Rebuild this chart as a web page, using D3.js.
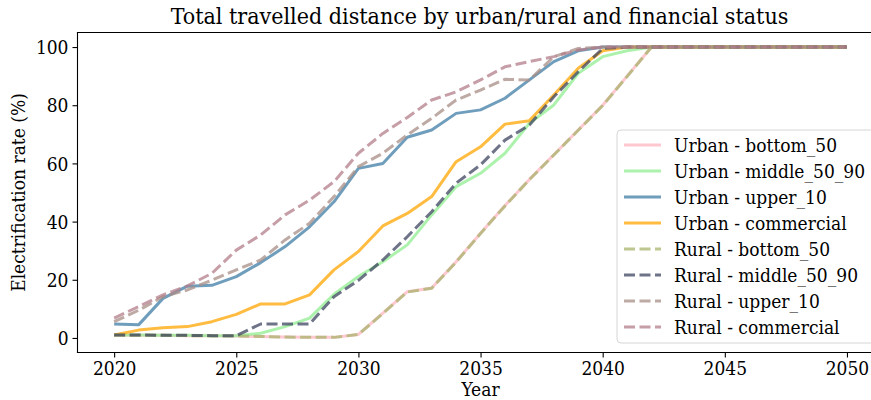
<!DOCTYPE html>
<html>
<head>
<meta charset="utf-8">
<script src="https://cdn.jsdelivr.net/npm/d3@7"></script>
<style>
  html, body { margin: 0; padding: 0; background: #fff; }
  svg { display: block; }
  text { font-family: "DejaVu Serif Condensed", "DejaVu Serif", serif; font-stretch: condensed; fill: #000; }
</style>
</head>
<body>
<div id="chart"></div>
<script>
// ── Data ─────────────────────────────────────────────────────────────────────
const years = d3.range(2020, 2051);

const urbanBottom50 = [1.0, 0.9, 0.9, 0.8, 0.8, 0.7, 0.5, 0.3, 0.2, 0.2, 1.2, 8.5, 15.9, 17.2, 26.2, 36.0, 45.5, 54.5, 63.0, 71.5, 80.0, 90.0, 100, 100, 100, 100, 100, 100, 100, 100, 100];
const urbanMiddle   = [1.0, 1.0, 0.9, 0.9, 0.8, 0.8, 1.6, 3.9, 6.8, 15.0, 21.1, 26.2, 32.0, 42.3, 52.0, 56.6, 63.5, 73.8, 80.1, 91.0, 96.7, 98.7, 100, 100, 100, 100, 100, 100, 100, 100, 100];
const urbanUpper    = [4.8, 4.5, 13.6, 17.8, 18.1, 21.1, 25.9, 31.4, 38.2, 46.8, 58.3, 60.0, 69.0, 71.5, 77.2, 78.4, 82.4, 88.7, 95.0, 98.7, 100, 100, 100, 100, 100, 100, 100, 100, 100, 100, 100];
const urbanComm     = [1.0, 2.7, 3.5, 3.9, 5.6, 8.1, 11.7, 11.7, 14.8, 23.4, 29.7, 38.5, 42.8, 48.6, 60.6, 65.7, 73.5, 74.7, 83.5, 92.7, 98.7, 100, 100, 100, 100, 100, 100, 100, 100, 100, 100];
const ruralBottom50 = [1.0, 0.9, 0.9, 0.8, 0.8, 0.7, 0.5, 0.3, 0.2, 0.2, 1.2, 8.4, 15.8, 17.1, 26.1, 35.9, 45.4, 54.4, 62.9, 71.4, 79.9, 89.9, 100, 100, 100, 100, 100, 100, 100, 100, 100];
const ruralMiddle   = [1.0, 1.0, 0.9, 0.9, 0.8, 0.8, 4.8, 4.8, 4.8, 14.2, 19.8, 26.8, 34.8, 43.4, 53.2, 59.5, 68.0, 73.2, 82.9, 91.5, 99.5, 100, 100, 100, 100, 100, 100, 100, 100, 100, 100];
const ruralUpper    = [5.6, 9.5, 14.2, 16.5, 19.9, 23.4, 26.8, 33.7, 39.4, 48.6, 58.9, 63.5, 69.8, 75.5, 81.8, 85.2, 88.9, 88.7, 96.7, 99.5, 100, 100, 100, 100, 100, 100, 100, 100, 100, 100, 100];
const ruralComm     = [6.8, 10.8, 14.8, 17.9, 22.2, 30.2, 35.4, 42.3, 47.4, 53.7, 63.5, 70.3, 75.8, 81.8, 84.6, 88.7, 93.2, 95.0, 96.7, 99.0, 100, 100, 100, 100, 100, 100, 100, 100, 100, 100, 100];

const seriesNames = [
  'Urban - bottom_50', 'Urban - middle_50_90', 'Urban - upper_10', 'Urban - commercial',
  'Rural - bottom_50', 'Rural - middle_50_90', 'Rural - upper_10', 'Rural - commercial'
];
const seriesValues = [urbanBottom50, urbanMiddle, urbanUpper, urbanComm,
                      ruralBottom50, ruralMiddle, ruralUpper, ruralComm];

const xTicks = [2020, 2025, 2030, 2035, 2040, 2045, 2050];
const yTicks = [0, 20, 40, 60, 80, 100];

// ── Styling ──────────────────────────────────────────────────────────────────
const colors  = ['#ffb6c1', '#90ee90', '#3f7ca6', '#ffa500',
                 '#a8b46e', '#3d4460', '#a88e85', '#b37e8a'];
const dashed  = [false, false, false, false, true, true, true, true];
const opacity = 0.75;
const lineW   = 3;
const dashArr = '11,4.5';

const W = 871, H = 400;
const axL = 77.5, axR = 883.6, axT = 32.5, axB = 352.5;

const svg = d3.select('#chart').append('svg')
  .attr('width', W).attr('height', H);

const x = d3.scaleLinear().domain([2018.5, 2051.5]).range([axL, axR]);
const y = d3.scaleLinear().domain([-5, 105]).range([axB, axT]);

// Lines
const line = d3.line()
  .x((d, i) => x(years[i]))
  .y(d => y(d));

const plot = svg.append('g');
seriesValues.forEach((vals, k) => {
  plot.append('path')
    .datum(vals)
    .attr('d', line)
    .attr('fill', 'none')
    .attr('stroke', colors[k])
    .attr('stroke-opacity', opacity)
    .attr('stroke-width', lineW)
    .attr('stroke-linejoin', 'round')
    .attr('stroke-dasharray', dashed[k] ? dashArr : null);
});

// Axes
const fs = 19;
const xAxis = svg.append('g')
  .attr('transform', `translate(0,${axB})`)
  .call(d3.axisBottom(x).tickValues(xTicks).tickFormat(d3.format('d')).tickSize(5).tickPadding(4));
const yAxis = svg.append('g')
  .attr('transform', `translate(${axL},0)`)
  .call(d3.axisLeft(y).tickValues(yTicks).tickSize(5).tickPadding(4));

[xAxis, yAxis].forEach(a => {
  a.select('.domain').remove();
  a.selectAll('line').attr('stroke', '#000').attr('stroke-width', 1.1);
  a.selectAll('text').attr('font-size', fs).attr('fill', '#000')
    .style('font-family', '"DejaVu Serif Condensed", "DejaVu Serif", serif');
});
yAxis.selectAll('text').attr('dy', '0.35em');

// Spines: left, bottom, top (right falls outside the picture)
const spine = (x1, y1, x2, y2) => svg.append('line')
  .attr('x1', x1).attr('y1', y1).attr('x2', x2).attr('y2', y2)
  .attr('stroke', '#000').attr('stroke-width', 1.1).attr('stroke-linecap', 'square');
spine(axL, axT, axL, axB);
spine(axL, axB, axR, axB);
spine(axL, axT, axR, axT);
spine(axR, axT, axR, axB);

// Title and labels
svg.append('text')
  .attr('x', (axL + axR) / 2 - 1).attr('y', 24)
  .attr('text-anchor', 'middle').attr('font-size', 23)
  .text('Total travelled distance by urban/rural and financial status');

svg.append('text')
  .attr('x', (axL + axR) / 2).attr('y', 396)
  .attr('text-anchor', 'middle').attr('font-size', fs)
  .text('Year');

svg.append('text')
  .attr('transform', `translate(25,${(axT + axB) / 2}) rotate(-90)`)
  .attr('text-anchor', 'middle').attr('font-size', fs)
  .text('Electrification rate (%)');

// Legend
const lg = svg.append('g').attr('transform', 'translate(617,130)');
lg.append('rect')
  .attr('x', 0).attr('y', 0).attr('width', 261).attr('height', 213)
  .attr('rx', 4).attr('ry', 4)
  .attr('fill', '#fff').attr('fill-opacity', 0.8)
  .attr('stroke', '#d6d6d6').attr('stroke-width', 1);

seriesNames.forEach((name, k) => {
  const cy = 15 + k * 26;
  lg.append('line')
    .attr('x1', 7).attr('x2', 44).attr('y1', cy).attr('y2', cy)
    .attr('stroke', colors[k]).attr('stroke-opacity', opacity)
    .attr('stroke-width', lineW)
    .attr('stroke-dasharray', dashed[k] ? dashArr : null);
  lg.append('text')
    .attr('x', 57).attr('y', cy).attr('dy', '0.35em')
    .attr('font-size', fs)
    .text(name);
});
</script>
</body>
</html>
